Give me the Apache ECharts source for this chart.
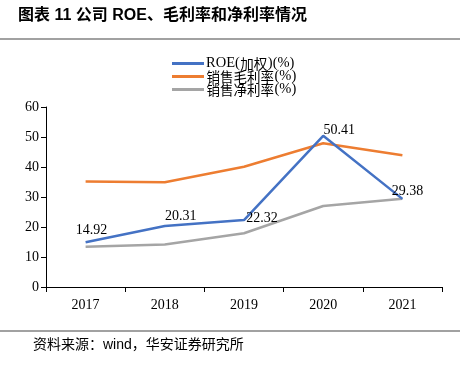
<!DOCTYPE html>
<html><head><meta charset="utf-8">
<script src="https://cdn.jsdelivr.net/npm/echarts@6/dist/echarts.min.js"></script>
<style>html,body{margin:0;padding:0;background:#fff}#c{width:460px;height:366px}</style>
</head><body><div id="c"></div>
<script>
var categories = ['2017','2018','2019','2020','2021'];
var roe = [14.92, 20.31, 22.32, 50.41, 29.38];
var grossMargin = [35.2, 34.9, 40.1, 47.9, 43.9];
var netMargin = [13.4, 14.2, 17.9, 27.0, 29.4];
var seriesNames = ['ROE(加权)(%)', '销售毛利率(%)', '销售净利率(%)'];
var roeLabelOffsets = [[6,-12],[16,-10],[18,-2],[16,-5],[5,-8]];

var serif = '"Liberation Serif","Times New Roman",serif';
var chart = echarts.init(document.getElementById('c'));
var legendRowTops = [56, 69, 82];
function mixFormat(name){
  return name.replace(/([\u4e00-\u9fff]+)/g, '{c|$1}').replace(/([^{}|\u4e00-\u9fff]+)(?![^{]*\})/g, '{l|$1}');
}
chart.setOption({
  animation: false,
  graphic: [
    {type:'text', left:18, top:8, style:{text:'图表 11 公司 ROE、毛利率和净利率情况', font:'bold 16px "Liberation Sans","Noto Sans CJK SC",sans-serif', fill:'#000'}},
    {type:'line', shape:{x1:0,y1:39,x2:460,y2:39}, style:{stroke:'#444', lineWidth:1.2}},
    {type:'line', shape:{x1:0,y1:331,x2:460,y2:331}, style:{stroke:'#444', lineWidth:1.2}},
    {type:'text', left:33, top:338, style:{text:'资料来源：wind，华安证券研究所', font:'14px "Liberation Sans","Noto Sans CJK SC",sans-serif', fill:'#000'}}
  ],
  legend: seriesNames.map(function(n, i){
    return {
      data:[n], left:172, top:legendRowTops[i], itemWidth:32, itemHeight:3, padding:0,
      icon:'rect', formatter: mixFormat,
      textStyle:{fontFamily:serif, fontSize:14.5, color:'#000', padding:[0,0,0,-3],
        rich:{
          c:{fontFamily:'"Noto Sans CJK SC",sans-serif', fontSize:13.5, color:'#000', padding:[0,0.5,0,0.5]},
          l:{fontFamily:serif, fontSize:14.5, color:'#000'}
        }}
    };
  }),
  grid: {left:46, right:18, top:107, bottom:79},
  xAxis: {
    type:'category', data:categories, boundaryGap:true,
    axisLine:{lineStyle:{color:'#000', width:1.2}},
    axisTick:{show:true, length:5, lineStyle:{color:'#000'}},
    axisLabel:{fontFamily:serif, fontSize:14, color:'#000', margin:11}
  },
  yAxis: {
    type:'value', min:0, max:60, interval:10,
    axisLine:{show:true, lineStyle:{color:'#000'}},
    axisTick:{show:true, length:5, inside:false, lineStyle:{color:'#000'}},
    splitLine:{show:false},
    axisLabel:{fontFamily:serif, fontSize:14, color:'#000', margin:7}
  },
  series: [
    {name:seriesNames[0], type:'line', data:roe.map(function(v,i){
        return {value:v, label:{show:true, offset:roeLabelOffsets[i]}};
      }), symbol:'circle', symbolSize:0, showSymbol:true, z:3,
     lineStyle:{color:'#4472C4', width:2.5}, itemStyle:{color:'#4472C4'},
     label:{show:true, position:[0,0], align:'center', verticalAlign:'middle', fontFamily:serif, fontSize:14, color:'#000'}},
    {name:seriesNames[1], type:'line', data:grossMargin, symbol:'none', z:2,
     lineStyle:{color:'#ED7D31', width:2.5}, itemStyle:{color:'#ED7D31'}},
    {name:seriesNames[2], type:'line', data:netMargin, symbol:'none', z:1,
     lineStyle:{color:'#A5A5A5', width:2.5}, itemStyle:{color:'#A5A5A5'}}
  ]
});
</script></body></html>
